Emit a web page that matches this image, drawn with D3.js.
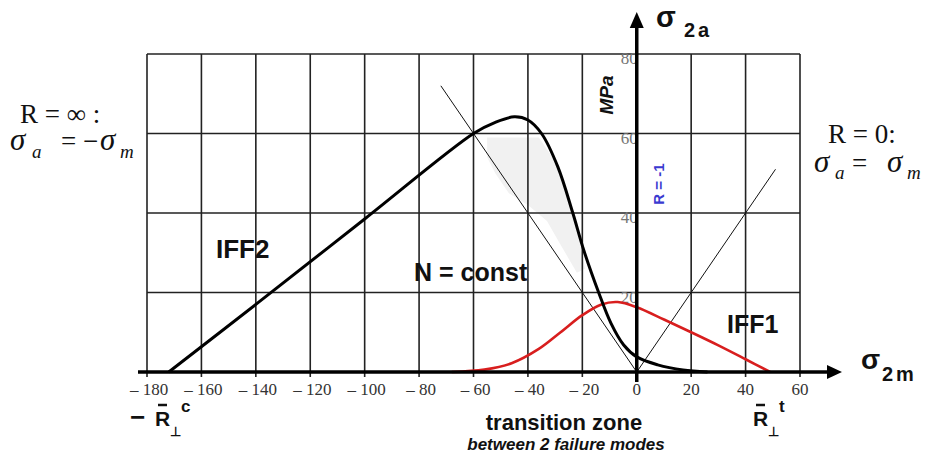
<!DOCTYPE html>
<html>
<head>
<meta charset="utf-8">
<script src="https://cdn.jsdelivr.net/npm/d3@7"></script>
<style>
  body { margin: 0; background: #fff; }
  svg { display: block; }
</style>
</head>
<body>
<div id="chart"></div>
<script>
// sigma_m ticks (MPa) and sigma_a ticks
var xTicks = [-180, -160, -140, -120, -100, -80, -60, -40, -20, 0, 20, 40, 60];
var yTicks = [20, 40, 60, 80];

// curves, [sigma_m, sigma_a]
var iff2 = [[-172, 0], [-140, 17], [-100, 38.5], [-60, 60], [-52, 62.8], [-45, 64.2], [-40, 63.4],
  [-35, 60], [-29, 51.6], [-23.5, 40], [-19.5, 30.7], [-14, 20], [-9.5, 12.3], [-4.8, 6.8],
  [0, 3.8], [7.7, 1.8], [17, 0.5], [26, 0]];
var iff1 = [[-68, 0], [-56, 0.6], [-46, 2.2], [-36, 5.8], [-28, 10], [-20, 14.3], [-13, 17],
  [-7, 17.6], [0, 16.3], [10, 13.2], [20, 10], [30, 6.7], [40, 3.2], [49, 0]];
var rInfinity = [[-72, 72], [0, 0]];   // R = inf : sigma_a = -sigma_m
var rZero = [[0, 0], [51, 51]];        // R = 0 : sigma_a = sigma_m
var shade = [[-55, 59], [-36, 59], [-30, 53], [-25, 43], [-21, 33], [-19, 26], [-22, 25],
  [-28, 32], [-33, 38], [-40, 42], [-47, 45], [-52, 50], [-55, 54]];

var w = 925, h = 454;

var svg = d3.select("#chart").append("svg")
  .attr("width", w)
  .attr("height", h);

var x = d3.scaleLinear().domain([-180, 60]).range([147, 800]);
var y = d3.scaleLinear().domain([0, 80]).range([372, 54]);

var line = d3.line()
  .x(function(d) { return x(d[0]); })
  .y(function(d) { return y(d[1]); });

var smooth = d3.line()
  .x(function(d) { return x(d[0]); })
  .y(function(d) { return y(d[1]); })
  .curve(d3.curveCatmullRom.alpha(0.5));

// light grey patch under the N = const curve
svg.append("path")
  .attr("d", line(shade) + "Z")
  .attr("fill", "#f1f1f1")
  .attr("stroke", "none");

// grid
svg.append("g").selectAll("line")
  .data(xTicks.filter(function(d) { return d !== 0; }))
  .enter().append("line")
    .attr("x1", function(d) { return x(d); })
    .attr("x2", function(d) { return x(d); })
    .attr("y1", y(80))
    .attr("y2", y(0) + 5)
    .attr("stroke", "#222")
    .attr("stroke-width", 1.6);

svg.append("g").selectAll("line")
  .data(yTicks)
  .enter().append("line")
    .attr("x1", x(-180))
    .attr("x2", x(60))
    .attr("y1", function(d) { return y(d); })
    .attr("y2", function(d) { return y(d); })
    .attr("stroke", "#222")
    .attr("stroke-width", 1.6);

// x tick labels
svg.append("g").selectAll("text")
  .data(xTicks)
  .enter().append("text")
    .attr("x", function(d) { return x(d) + (d < 0 ? 2 : 0); })
    .attr("y", y(0) + 23)
    .attr("text-anchor", "middle")
    .style("font-family", "'Liberation Serif', 'DejaVu Serif', serif")
    .style("font-size", "17px")
    .style("fill", "#333")
    .text(function(d) { return d < 0 ? "\u2013 " + Math.abs(d) : d; });

// y tick labels, tucked against the axis
svg.append("g").selectAll("text")
  .data(yTicks)
  .enter().append("text")
    .attr("x", x(0) + 1)
    .attr("y", function(d) { return y(d) + 10; })
    .attr("text-anchor", "end")
    .style("font-family", "'Liberation Serif', 'DejaVu Serif', serif")
    .style("font-size", "17px")
    .style("fill", "#777")
    .text(function(d) { return d; });

// thin R lines
[rInfinity, rZero].forEach(function(r) {
  svg.append("path")
    .attr("d", line(r))
    .attr("fill", "none")
    .attr("stroke", "#111")
    .attr("stroke-width", 1);
});

// curves
svg.append("path")
  .attr("d", smooth(iff1))
  .attr("fill", "none")
  .attr("stroke", "#d81e1e")
  .attr("stroke-width", 2.6);

svg.append("path")
  .attr("d", smooth(iff2))
  .attr("fill", "none")
  .attr("stroke", "#000")
  .attr("stroke-width", 3);

// axes with arrow heads
var x0 = x(0), y0 = y(0);
svg.append("line")
  .attr("x1", x(-180) - 9).attr("x2", x(60) + 30)
  .attr("y1", y0).attr("y2", y0)
  .attr("stroke", "#000").attr("stroke-width", 3.5);
svg.append("path")
  .attr("d", "M" + (x(60) + 42) + "," + y0 + "l-15,-7v14Z")
  .attr("fill", "#000");

svg.append("line")
  .attr("x1", x0).attr("x2", x0)
  .attr("y1", y0 + 10).attr("y2", y(80) - 30)
  .attr("stroke", "#000").attr("stroke-width", 3.5);
svg.append("path")
  .attr("d", "M" + x0 + ",12l-7,16h14Z")
  .attr("fill", "#000");

var sans = "'Liberation Sans', Arial, sans-serif";
var serif = "'Liberation Serif', 'Times New Roman', serif";

function label(tx, ty, str, size, opts) {
  opts = opts || {};
  return svg.append("text")
    .attr("x", tx)
    .attr("y", ty)
    .attr("text-anchor", opts.anchor || "start")
    .attr("transform", opts.rotate ? "rotate(-90," + tx + "," + ty + ")" : null)
    .style("font-family", opts.family || sans)
    .style("font-size", size + "px")
    .style("font-weight", opts.weight || "bold")
    .style("font-style", opts.italic ? "italic" : "normal")
    .style("letter-spacing", opts.spacing ? opts.spacing + "px" : null)
    .style("fill", opts.fill || "#111")
    .text(str);
}

// axis titles
label(656, 27, "\u03c3", 29);
label(684, 37, "2a", 20, { spacing: 3 });
label(861, 369, "\u03c3", 28);
label(882, 381, "2m", 20, { spacing: 3 });

label(613, 95, "MPa", 19, { anchor: "middle", rotate: true, italic: true });
label(664, 184, "R = -1", 15, { anchor: "middle", rotate: true, fill: "#3a3ad0" });

// curve labels
label(216, 258, "IFF2", 26);
label(414, 281, "N = const", 25);
label(727, 333, "IFF1", 25);

label(564, 430, "transition zone", 22, { anchor: "middle" });
label(566, 450, "between  2 failure modes", 17, { anchor: "middle", italic: true });

// strength symbols: -R⊥c and R⊥t
function strength(tx, sup, minus) {
  if (minus) label(tx - 25, 426, "\u2212", 26);
  label(tx, 426, "R", 21);
  label(tx + 15, 436, "\u22a5", 13);
  label(tx + 26, 412, sup, 17);
  svg.append("line")
    .attr("x1", tx + 3).attr("x2", tx + 12)
    .attr("y1", 405).attr("y2", 405)
    .attr("stroke", "#111").attr("stroke-width", 2.5);
}
strength(155, "c", true);
strength(753, "t", false);

// R = inf / R = 0 notes
var plain = { family: serif, weight: "normal" };
var ital = { family: serif, weight: "normal", italic: true };
label(20, 123, "R = \u221e :", 27, plain);
label(10, 150, "\u03c3", 31, ital);
label(32, 158, "a", 19, ital);
label(61, 150, "=", 27, plain);
label(83, 150, "\u2212", 27, plain);
label(100, 150, "\u03c3", 31, ital);
label(120, 158, "m", 19, ital);

label(828, 143, "R = 0:", 27, plain);
label(814, 172, "\u03c3", 31, ital);
label(835, 179, "a", 19, ital);
label(852, 172, "=", 27, plain);
label(887, 172, "\u03c3", 31, ital);
label(907, 179, "m", 19, ital);
</script>
</body>
</html>
